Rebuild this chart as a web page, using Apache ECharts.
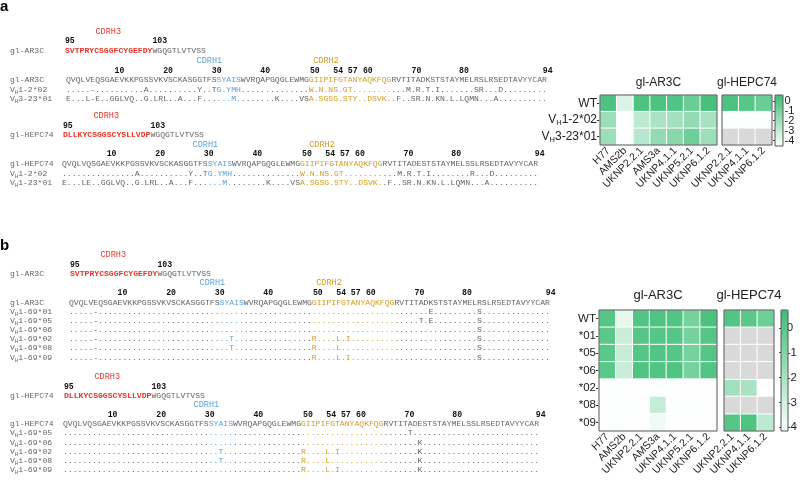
<!DOCTYPE html>
<html><head><meta charset="utf-8">
<script src="https://cdn.jsdelivr.net/npm/echarts@6/dist/echarts.min.js"></script>
<style>html,body{margin:0;padding:0;background:#fff}#c{width:800px;height:484px}</style>
</head><body><div id="c"></div>
<script>
// ---------------- DATA ----------------
const arCdr3 = 'SVTPRYCSGGFCYGEFDY';
const hepCdr3 = 'DLLKYCSGGSCYSLLVDP';
const fw4 = 'WGQGTLVTVSS';
const arSeq = 'QVQLVEQSGAEVKKPGSSVKVSCKASGGTFSSYAISWVRQAPGQGLEWMGGIIPIFGTANYAQKFQGRVTITADKSTSTAYMELRSLRSEDTAVYYCAR';
const hepSeq = 'QVQLVQSGAEVKKPGSSVKVSCKASGGTFSSYAISWVRQAPGQGLEWMGGIIPIFGTANYAQKFQGRVTITADESTSTAYMELSSLRSEDTAVYYCAR';
const posLabels = ['10','20','30','40','50','54','57','60','70','80','94'];

// panel a alignments
const aArNames = ['VH1-2*02','VH3-23*01'];
const aArRows = [
  '.....-..........A..........Y..TG.YMH' + '..............' + 'W.N.NS.GT........' + '...M.R.T.I.......SR...D.........',
  'E...L-E..GGLVQ..G.LRL..A...F......M.' + '.......K....VS' + 'A.SGSG.STY..DSVK.' + '.F..SR.N.KN.L.LQMN...A..........'
];
const aHepNames = ['VH1-2*02','VH1-23*01'];
const aHepRows = [
  '...............A..........Y..TG.YMH' + '..............' + 'W.N.NS.GT........' + '...M.R.T.I........R...D.........',
  'E...LE..GGLVQ..G.LRL..A...F......M.' + '.......K....VS' + 'A.SGSG.STY..DSVK.' + '.F..SR.N.KN.L.LQMN...A..........'
];
// panel b alignments: substitutions (position:residue) relative to the gl sequence, '.' elsewhere
const bArNames = ['VH1-69*01','VH1-69*05','VH1-69*06','VH1-69*02','VH1-69*08','VH1-69*09'];
const bArSubs = ['5-,74E,84S','5-,72T,74E,84S','5-,84S','5-,33T,50R,55L,57I,84S','5-,33T,50R,55L,84S','5-,50R,55L,57I,84S'];
const bHepNames = ['VH1-69*05','VH1-69*06','VH1-69*02','VH1-69*08','VH1-69*09'];
const bHepSubs = ['71T','73K','32T,49R,54L,56I,73K','32T,49R,54L,73K','49R,54L,56I,73K'];

// heatmaps (log10 neutralization, null = not tested)
const virAR = ['H77','AMS2b','UKNP2.2.1','AMS3a','UKNP4.1.1','UKNP5.2.1','UKNP6.1.2'];
const virHEP = ['UKNP2.2.1','UKNP4.1.1','UKNP6.1.2'];
const aRows = ['WT','VH1-2*02','VH3-23*01'];
const aAR = [
  [0.2,-3.6,0.2,0.2,0.1,-0.6,0.4],
  [-1.9,-4.5,-2.8,-2.3,-2.1,-1.7,-2.2],
  [-1.9,-4.5,-2.6,-1.7,-1.4,-0.7,-1.9]
];
const aHEP = [
  [0.2,-0.1,-0.6],
  [-4.5,-4.5,-4.5],
  [null,null,null]
];
const bRows = ['WT','*01','*05','*06','*02','*08','*09'];
const bAR = [
  [0.1,-3.6,0.2,0.3,0.2,-0.7,0.4],
  [0.0,-2.8,0.1,0.1,0.1,-0.7,0.1],
  [0.0,-2.7,0.1,0.2,0.1,-0.7,0.1],
  [0.0,-2.8,0.3,0.2,0.3,-0.7,0.2],
  [-4.1,-4.1,-4.1,-4.1,-4.1,-4.1,-4.1],
  [-4.1,-4.1,-4.1,-2.7,-4.1,-4.1,-4.1],
  [-4.1,-4.1,-4.1,-3.8,-4.1,-4.1,-4.1]
];
const bHEP = [
  [0.2,0.0,-0.5],
  [null,null,null],
  [null,null,null],
  [null,null,null],
  [-1.8,-2.0,-4.2],
  [null,null,null],
  [0.1,0.3,-2.5]
];
const cbarTicksEven = [0,-2,-4];
const cbarTicksOdd = [-1,-3];

// ---------------- STYLE / LAYOUT ----------------
const MONO = "'Liberation Mono','DejaVu Sans Mono',monospace";
const SANS = "'Liberation Sans',Arial,sans-serif";
const FS = 8.1, CW = FS * 0.6;
const C = {gray:'#666', red:'#e8352b', blue:'#5ca2de', orange:'#d49c1e', dark:'#111'};
const rich = {
  g:{fill:C.gray,fontSize:FS,fontFamily:MONO},
  r:{fill:C.red,fontSize:FS,fontFamily:MONO,fontWeight:'bold'},
  b:{fill:C.blue,fontSize:FS,fontFamily:MONO},
  o:{fill:C.orange,fontSize:FS,fontFamily:MONO},
  v:{fill:C.gray,fontSize:FS,fontFamily:MONO,lineHeight:12,verticalAlign:'middle'},
  h:{fill:C.gray,fontSize:5.5,fontFamily:MONO,lineHeight:12,verticalAlign:'bottom'}
};
function applySubs(base, subs){
  const a = base.split('').map(()=>'.');
  subs.split(',').forEach(s=>{ a[parseInt(s)] = s.replace(/^\d+/,''); });
  return a.join('');
}
function seqRich(s, c1, c2){
  const segs = [[0,c1[0],'g'],[c1[0],c1[1]+1,'b'],[c1[1]+1,c2[0],'g'],[c2[0],c2[1]+1,'o'],[c2[1]+1,s.length,'g']];
  return segs.map(([a,b,k]) => a<b ? `{${k}|${s.slice(a,b)}}` : '').join('');
}
function nameRich(n){ return n.startsWith('VH') ? `{v|V}{h|H}{v|${n.slice(2)}}` : `{v|${n}}`; }

const arCols = [11,21,31,41,51.2,56,59,62.1,72.1,81.9,99.1];
const graphics = [];
function txt(x,y,text,st){
  graphics.push({type:'text',x,y,silent:true,style:Object.assign({text,align:'left',verticalAlign:'middle',textAlign:'left',textVerticalAlign:'middle',rich},st||{})});
}
function block(bk){
  const off = bk.hep ? -0.8 : 0;
  txt(bk.c3x + 8.9*CW, bk.y[0], 'CDRH3', {fill:C.red,font:`8.5px ${MONO}`,align:'center',textAlign:'center'});
  txt(bk.c3x + 1*CW, bk.y[1], '95', {fill:C.dark,font:`bold 8.2px ${MONO}`,align:'center',textAlign:'center'});
  txt(bk.c3x + 19.5*CW, bk.y[1], '103', {fill:C.dark,font:`bold 8.2px ${MONO}`,align:'center',textAlign:'center'});
  txt(10, bk.y[2], `{v|${bk.name}}`);
  txt(bk.c3x, bk.y[2], `{r|${bk.cdr3}}{g|${fw4}}`);
  txt(bk.sx + 29.5*CW, bk.y[3], 'CDRH1', {fill:C.blue,font:`8.5px ${MONO}`,align:'center',textAlign:'center'});
  if (bk.cdr2) txt(bk.sx + 53.5*CW, bk.y[3], 'CDRH2', {fill:C.orange,font:`8.5px ${MONO}`,align:'center',textAlign:'center'});
  posLabels.forEach((p,i)=> txt(bk.sx + (arCols[i]+off)*CW, bk.y[4], p, {fill:C.dark,font:`bold 8.2px ${MONO}`,align:'center',textAlign:'center'}));
  const c1 = bk.hep ? [30,34] : [31,35], c2 = bk.hep ? [49,65] : [50,66];
  txt(10, bk.rows[0], `{v|${bk.name}}`);
  txt(bk.sx, bk.rows[0], seqRich(bk.seq,c1,c2));
  bk.names.forEach((n,i)=>{
    txt(10, bk.rows[i+1], nameRich(n));
    txt(bk.sx, bk.rows[i+1], seqRich(bk.aln[i],c1,c2));
  });
}
block({name:'gl-AR3C',cdr3:arCdr3,seq:arSeq,hep:false,cdr2:true,c3x:65,sx:66,y:[32,41,51,61,71],rows:[80,89.5,99],names:aArNames,aln:aArRows});
block({name:'gl-HEPC74',cdr3:hepCdr3,seq:hepSeq,hep:true,cdr2:true,c3x:63,sx:62,y:[116,126,135,145,154],rows:[164,173.5,183],names:aHepNames,aln:aHepRows});
block({name:'gl-AR3C',cdr3:arCdr3,seq:arSeq,hep:false,cdr2:true,c3x:70,sx:69,y:[255,265,274,283,293],rows:[303,312,321,330,339,348,357.5],names:bArNames,aln:bArSubs.map(s=>applySubs(arSeq,s))});
block({name:'gl-HEPC74',cdr3:hepCdr3,seq:hepSeq,hep:true,cdr2:false,c3x:64,sx:63,y:[377,387,396,405,415],rows:[424,433,442.5,451.5,460.5,469.5],names:bHepNames,aln:bHepSubs.map(s=>applySubs(hepSeq,s))});

// panel letters
txt(0, 7, 'a', {font:`bold 15px ${SANS}`,fill:'#000'});
txt(0, 246, 'b', {font:`bold 15px ${SANS}`,fill:'#000'});

// heatmap layout (grids 6,7 duplicate the colour-bar grids to carry the odd tick labels)
const G = [
  {left:600, top:95, width:117, height:50},
  {left:722, top:95, width:50, height:50},
  {left:599, top:310, width:118, height:121},
  {left:724, top:310, width:50, height:121},
  {left:775, top:95, width:8, height:51},
  {left:781, top:310, width:7, height:121},
  {left:775, top:95, width:8, height:51},
  {left:781, top:310, width:7, height:121}
];
const titles = [['gl-AR3C',0,83,12],['gl-HEPC74',1,83,12],['gl-AR3C',2,295,13],['gl-HEPC74',3,295,13]];
titles.forEach(([t,g,y,fs])=> txt(G[g].left + G[g].width/2, y, t, {font:`${fs}px ${SANS}`,fill:'#222',align:'center',textAlign:'center'}));
G.slice(0,6).forEach(g=> graphics.push({type:'rect',silent:true,z:100,shape:{x:g.left,y:g.top,width:g.width,height:g.height},style:{fill:'none',stroke:'#555',lineWidth:1}}));

const axRich = {
  v:{fontSize:12,color:'#222',fontFamily:SANS,lineHeight:14},
  h:{fontSize:7.5,color:'#222',fontFamily:SANS,lineHeight:14,verticalAlign:'bottom'}
};
function xCat(gi, data, fs){
  return {gridIndex:gi,type:'category',data,axisLine:{show:false},splitLine:{show:false},
    axisTick:{alignWithLabel:true,length:3,lineStyle:{color:'#333'}},
    axisLabel:{rotate:45,interval:0,fontSize:fs,color:'#222',fontFamily:SANS,margin:4}};
}
function yCat(gi, data, show, fs){
  return {gridIndex:gi,type:'category',data,inverse:true,axisLine:{show:false},splitLine:{show:false},
    axisTick:{show:show,alignWithLabel:true,length:3,lineStyle:{color:'#333'}},
    axisLabel:{show:show,fontSize:fs,color:'#222',fontFamily:SANS,margin:3,
      formatter:v=> v.startsWith('VH') ? `{v|V}{h|H}{v|${v.slice(2)}}` : `{v|${v}}`,
      rich:Object.assign({}, axRich, {v:Object.assign({},axRich.v,{fontSize:fs})})}};
}
function yBar(gi, min, max, fs, ticks){
  return {gridIndex:gi,type:'value',position:'right',min,max,axisLine:{show:false},splitLine:{show:false},
    axisTick:{show:true,inside:true,length:2,customValues:ticks,lineStyle:{color:'#444'}},
    axisLabel:{customValues:ticks,showMinLabel:true,showMaxLabel:true,hideOverlap:false,
      fontSize:fs,color:'#222',fontFamily:SANS,margin:1.5}};
}
function cells(mat, na){
  const d = [];
  mat.forEach((row,i)=>row.forEach((v,j)=>{
    if (!na && v !== null) d.push([j,i,v]);
    if (na && v === null) d.push([j,i,0]);
  }));
  return d;
}
const cellStyle = {borderColor:'#fff',borderWidth:1};
const A_MIN = -4.55, A_MAX = 0.6, B_MIN = -4.15, B_MAX = 0.72;
const GREEN = ['#ffffff','#3dbe75'];
const hiddenX = gi => ({gridIndex:gi,type:'value',show:false,min:0,max:1});

const option = {
  animation:false,
  backgroundColor:'#fff',
  grid: G.map(g=>Object.assign({containLabel:false},g)),
  xAxis:[
    xCat(0, virAR, 10.5), xCat(1, virHEP, 10.5), xCat(2, virAR, 10.5), xCat(3, virHEP, 10.5),
    hiddenX(4), hiddenX(5), hiddenX(6), hiddenX(7)
  ],
  yAxis:[
    yCat(0, aRows, true, 12), yCat(1, aRows, false, 12), yCat(2, bRows, true, 11.5), yCat(3, bRows, false, 11.5),
    yBar(4, A_MIN, A_MAX, 11, cbarTicksEven), yBar(5, B_MIN, B_MAX, 11.5, cbarTicksEven),
    yBar(6, A_MIN, A_MAX, 11, cbarTicksOdd), yBar(7, B_MIN, B_MAX, 11.5, cbarTicksOdd)
  ],
  visualMap:[
    {type:'continuous',seriesIndex:[0,1],min:A_MIN,max:A_MAX,calculable:false,orient:'vertical',
     left:G[4].left,top:G[4].top,itemWidth:G[4].width,itemHeight:G[4].height,padding:0,text:null,showLabel:false,
     inRange:{color:GREEN},hoverLink:false},
    {type:'continuous',seriesIndex:[3,4],min:B_MIN,max:B_MAX,calculable:false,orient:'vertical',
     left:G[5].left,top:G[5].top,itemWidth:G[5].width,itemHeight:G[5].height,padding:0,text:null,showLabel:false,
     inRange:{color:GREEN},hoverLink:false}
  ],
  series:[
    {type:'heatmap',xAxisIndex:0,yAxisIndex:0,data:cells(aAR,false),itemStyle:cellStyle},
    {type:'heatmap',xAxisIndex:1,yAxisIndex:1,data:cells(aHEP,false),itemStyle:cellStyle},
    {type:'heatmap',xAxisIndex:1,yAxisIndex:1,data:cells(aHEP,true),itemStyle:Object.assign({color:'#d9d9d9'},cellStyle)},
    {type:'heatmap',xAxisIndex:2,yAxisIndex:2,data:cells(bAR,false),itemStyle:cellStyle},
    {type:'heatmap',xAxisIndex:3,yAxisIndex:3,data:cells(bHEP,false),itemStyle:cellStyle},
    {type:'heatmap',xAxisIndex:3,yAxisIndex:3,data:cells(bHEP,true),itemStyle:Object.assign({color:'#d9d9d9'},cellStyle)}
  ],
  graphic: graphics
};
const chart = echarts.init(document.getElementById('c'), null, {renderer:'canvas'});
chart.setOption(option);
</script>
</body></html>
